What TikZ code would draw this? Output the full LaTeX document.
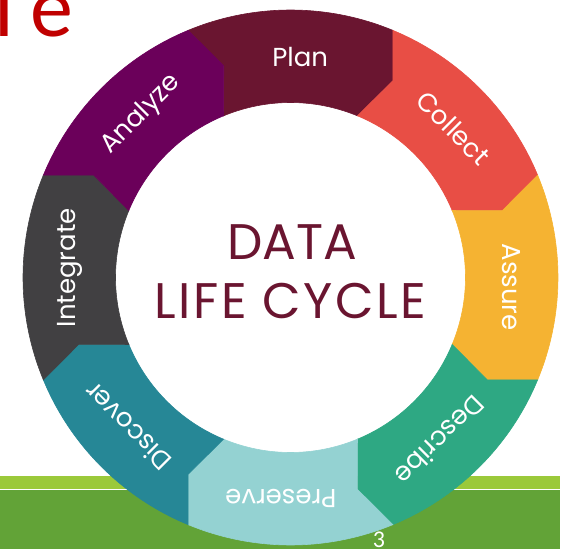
\documentclass[tikz,border=0pt]{standalone}
\usepackage{fontspec}
\setmainfont{Poppins}
\newfontfamily\slidefont{Carlito}
\definecolor{plancol}{HTML}{6A1530}
\definecolor{collectcol}{HTML}{E84E45}
\definecolor{assurecol}{HTML}{F5B332}
\definecolor{describecol}{HTML}{2EA883}
\definecolor{preservecol}{HTML}{94D2D2}
\definecolor{discovercol}{HTML}{268796}
\definecolor{integratecol}{HTML}{414042}
\definecolor{analyzecol}{HTML}{6B005A}
\definecolor{titlered}{HTML}{C00000}
\definecolor{barlight}{HTML}{9BC93A}
\definecolor{bardark}{HTML}{62A337}
\tikzset{
  seglabel/.style={text=white,inner sep=0pt,font=\fontsize{26}{26}\selectfont},
  centerlabel/.style={text=plancol,inner sep=0pt,anchor=base,font=\fontsize{50}{50}\selectfont}
}
\begin{document}
\begin{tikzpicture}[x=1pt,y=1pt]
    \useasboundingbox (-290.5,-271.5) rectangle (274.5,277.5);
    \clip (-290.5,-271.5) rectangle (274.5,277.5);
    \def\ro{267.5}
    \def\ri{175}
    \def\rm{222}
    \def\d{5}

    % title remnant and footer bars
    \node[anchor=base east,text=titlered,inner sep=0pt,font=\slidefont\fontsize{86}{86}\selectfont] (title) at (-217,240.5) {l\hspace{16pt}e};
    \fill[barlight] (-290.5,-198.5) rectangle (269.5,-211.5);
    \fill[bardark] (-290.5,-212.5) rectangle (269.5,-271.5);

    % ring of chevrons
    \foreach \a/\col/\txt [count=\i] in {90/plancol/Plan,45/collectcol/Collect,0/assurecol/Assure,-45/describecol/Describe,-90/preservecol/Preserve,-135/discovercol/Discover,180/integratecol/Integrate,135/analyzecol/Analyze} {
        \filldraw[\col,line width=0.6pt] (\a+22.5:\ro) arc[start angle=\a+22.5,end angle=\a-22.5,radius=\ro]
            -- (\a-22.5-\d:\rm) -- (\a-22.5:\ri)
            arc[start angle=\a-22.5,end angle=\a+22.5,radius=\ri]
            -- (\a+22.5-\d:\rm) -- cycle;
        \node[seglabel,rotate=\a-90] (lbl\i) at (\a-2.5:221) {\txt};
    }

    \node[centerlabel] (data) at (2,17.5) {DATA};
    \node[centerlabel] (cycle) at (0,-40.5) {\addfontfeature{LetterSpace=5}LIFE\hspace{16pt}CYCLE};
    \node[anchor=north,text=white,inner sep=0pt,font=\slidefont\fontsize{24}{24}\selectfont] (page) at (88.5,-254.5) {3};
\end{tikzpicture}
\end{document}
